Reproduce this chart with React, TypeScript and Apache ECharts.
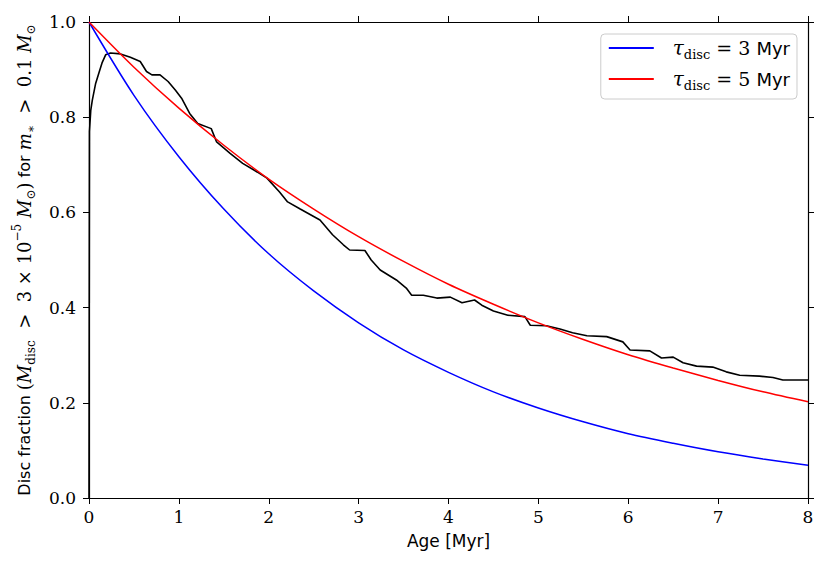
import React, { useEffect, useRef } from "react";
import * as echarts from "echarts";

// Model curves (fraction vs age in Myr)
const modelAges = [0, 0.5, 1, 1.5, 2, 2.5, 3, 3.5, 4, 4.5, 5, 5.5, 6, 6.5, 7, 7.5, 8];
const tau3Frac = [1.0, 0.846, 0.717, 0.607, 0.513, 0.435, 0.368, 0.311, 0.264, 0.223, 0.189, 0.16, 0.135, 0.115, 0.097, 0.082, 0.069];
const tau5Frac = [1.0, 0.905, 0.819, 0.741, 0.67, 0.607, 0.549, 0.497, 0.449, 0.407, 0.368, 0.333, 0.301, 0.273, 0.247, 0.223, 0.202];

// Simulated disc fraction (black jagged curve)
const simAges = [
  0, 0.005, 0.02, 0.037, 0.074, 0.11, 0.145, 0.185, 0.24, 0.35, 0.46, 0.57, 0.64, 0.7, 0.79, 0.88,
  0.96, 1.03, 1.12, 1.21, 1.36, 1.42, 1.57, 1.71, 1.87, 1.98, 2.12, 2.21, 2.35, 2.57, 2.71, 2.83,
  2.9, 3.07, 3.14, 3.24, 3.42, 3.53, 3.59, 3.72, 3.87, 4.02, 4.15, 4.29, 4.37, 4.5, 4.66, 4.85,
  4.91, 5.09, 5.24, 5.38, 5.54, 5.76, 5.94, 6.02, 6.24, 6.37, 6.5, 6.61, 6.76, 6.94, 7.09, 7.24,
  7.46, 7.61, 7.72, 8.0,
];
const simFrac = [
  0, 0.77, 0.815, 0.836, 0.871, 0.893, 0.914, 0.931, 0.935, 0.933, 0.926, 0.917, 0.896, 0.889, 0.889, 0.875,
  0.857, 0.84, 0.808, 0.787, 0.776, 0.748, 0.724, 0.703, 0.685, 0.672, 0.643, 0.622, 0.607, 0.584, 0.553, 0.532,
  0.521, 0.52, 0.5, 0.479, 0.458, 0.441, 0.426, 0.426, 0.42, 0.422, 0.41, 0.416, 0.405, 0.393, 0.384, 0.381,
  0.363, 0.362, 0.355, 0.347, 0.341, 0.339, 0.328, 0.311, 0.309, 0.294, 0.296, 0.284, 0.277, 0.275, 0.265, 0.258,
  0.256, 0.253, 0.248, 0.248,
];

const seriesNames = ["τdisc = 3 Myr", "τdisc = 5 Myr"];
const tauValues = ["3", "5"];

const SERIF = "DejaVu Serif";
const SANS = "DejaVu Sans";

export default function App() {
  const ref = useRef<HTMLDivElement>(null);

  useEffect(() => {
    document.body.style.margin = "0";
    if (!ref.current) return;
    const chart = echarts.init(ref.current, null, { renderer: "svg" });

    const axisCommon = {
      type: "value" as const,
      axisLine: { show: true, onZero: false, lineStyle: { color: "#000", width: 1.2 } },
      axisTick: { show: true, inside: false, length: 6, lineStyle: { color: "#000", width: 1 } },
      splitLine: { show: false },
    };

    const nameRich = {
      a: { fontFamily: SANS, fontSize: 16, color: "#000", lineHeight: 26 },
      i: { fontFamily: SERIF, fontStyle: "italic", fontSize: 18, color: "#000", lineHeight: 26 },
      n: { fontFamily: SERIF, fontSize: 18, color: "#000", lineHeight: 26 },
      s: { fontFamily: SERIF, fontSize: 12, color: "#000", lineHeight: 13, verticalAlign: "bottom" },
      p: { fontFamily: SERIF, fontSize: 12, color: "#000", lineHeight: 13, verticalAlign: "top" },
    };

    const legendRich = {
      sp: { width: 14 },
      t: { fontFamily: SERIF, fontStyle: "italic", fontSize: 20, color: "#000", lineHeight: 26 },
      s: { fontFamily: SERIF, fontSize: 13, color: "#000", lineHeight: 13, verticalAlign: "bottom" },
      e: { fontFamily: SERIF, fontSize: 19, color: "#000", lineHeight: 26 },
      m: { fontFamily: SANS, fontSize: 18, color: "#000", lineHeight: 26 },
    };

    chart.setOption({
      animation: false,
      backgroundColor: "#fff",
      grid: { left: 89, right: 23, top: 22, bottom: 80, containLabel: false },
      legend: {
        data: seriesNames,
        orient: "vertical",
        right: 34,
        top: 34,
        padding: [4, 7, 7, 8],
        itemGap: 8,
        itemWidth: 45,
        itemHeight: 2,
        icon: "rect",
        backgroundColor: "rgba(255,255,255,0.8)",
        borderColor: "#cccccc",
        borderWidth: 1,
        borderRadius: 4,
        formatter: (name: string) => {
          const idx = seriesNames.indexOf(name);
          return `{sp|}{t|τ}{s|disc}{e| = ${tauValues[idx]} }{m|Myr}`;
        },
        textStyle: { rich: legendRich },
      },
      xAxis: [
        {
          ...axisCommon,
          min: 0,
          max: 8,
          interval: 1,
          position: "bottom",
          axisLabel: { color: "#000", fontFamily: SERIF, fontSize: 17, margin: 10 },
          name: "Age [Myr]",
          nameLocation: "middle",
          nameGap: 34,
          nameTextStyle: { fontFamily: SANS, fontSize: 17, color: "#000" },
        },
        {
          ...axisCommon,
          min: 0,
          max: 8,
          interval: 1,
          position: "top",
          axisLabel: { show: false },
        },
      ],
      yAxis: [
        {
          ...axisCommon,
          min: 0,
          max: 1,
          interval: 0.2,
          position: "left",
          axisLabel: {
            color: "#000",
            fontFamily: SERIF,
            fontSize: 17,
            margin: 13,
            formatter: (v: number) => v.toFixed(1),
          },
          name:
            "{a|Disc fraction }{n|(}{i|M}{s|disc}{n|  >  3 × 10}{p|−5}{n| }{i|M}{s|⊙}{n|)}{a| for }{i|m}{s|∗}{n|  >  0.1 }{i|M}{s|⊙}",
          nameLocation: "middle",
          nameGap: 52,
          nameRotate: 90,
          nameTextStyle: { rich: nameRich },
        },
        {
          ...axisCommon,
          min: 0,
          max: 1,
          interval: 0.2,
          position: "right",
          axisLabel: { show: false },
        },
      ],
      series: [
        {
          type: "line",
          name: "simulation",
          data: simAges.map((a, i) => [a, simFrac[i]]),
          showSymbol: false,
          symbol: "none",
          lineStyle: { color: "#000", width: 1.6 },
          itemStyle: { color: "#000" },
          z: 1,
        },
        {
          type: "line",
          name: seriesNames[0],
          data: modelAges.map((a, i) => [a, tau3Frac[i]]),
          smooth: 0.3,
          showSymbol: false,
          symbol: "none",
          lineStyle: { color: "#0000ff", width: 1.5 },
          itemStyle: { color: "#0000ff" },
          z: 2,
        },
        {
          type: "line",
          name: seriesNames[1],
          data: modelAges.map((a, i) => [a, tau5Frac[i]]),
          smooth: 0.3,
          showSymbol: false,
          symbol: "none",
          lineStyle: { color: "#ff0000", width: 1.5 },
          itemStyle: { color: "#ff0000" },
          z: 3,
        },
      ],
    });

    return () => chart.dispose();
  }, []);

  return <div ref={ref} style={{ width: 831, height: 578, position: "absolute", left: 0, top: 0 }} />;
}
